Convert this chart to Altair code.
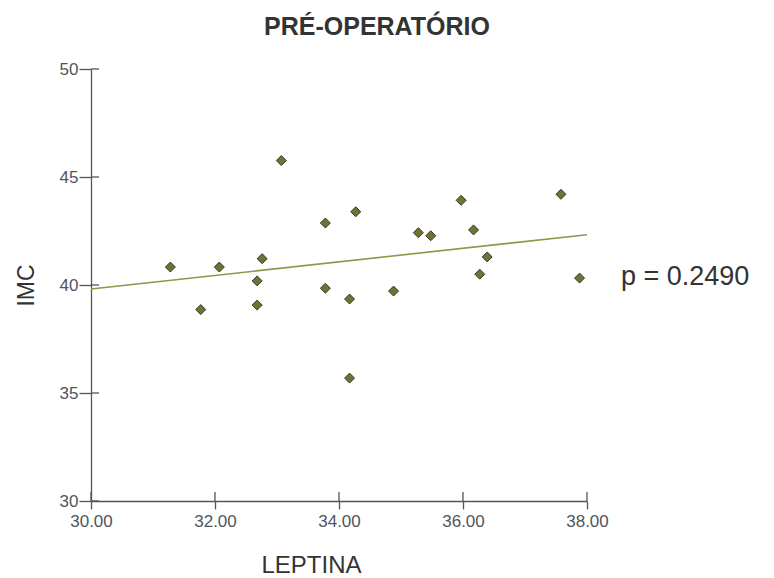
import altair as alt
import pandas as pd

# Data
leptina = [31.28, 32.07, 32.68, 32.76, 33.07, 33.78, 33.78, 34.27, 34.17, 31.77, 32.68,
           34.17, 34.88, 35.28, 35.48, 35.97, 36.17, 36.39, 36.27, 37.58, 37.88]
imc = [40.83, 40.83, 40.19, 41.22, 45.76, 42.87, 39.85, 43.39, 39.35, 38.86, 39.07,
       35.69, 39.72, 42.42, 42.28, 43.92, 42.55, 41.30, 40.50, 44.20, 40.32]
x_ticks = [30, 32, 34, 36, 38]
y_ticks = [30, 35, 40, 45, 50]
p_label = "p = 0.2490"

W, H = 496, 432
FONT = "Liberation Sans"
AXIS_COLOR = "#555555"

df = pd.DataFrame({"LEPTINA": leptina, "IMC": imc})
xt = pd.DataFrame({"v": x_ticks})
yt = pd.DataFrame({"v": y_ticks})

xscale = alt.Scale(domain=[30, 38], nice=False, zero=False)
yscale = alt.Scale(domain=[30, 50], nice=False, zero=False)

base = alt.Chart(df)

points = base.mark_point(shape="diamond", filled=True, size=100, fill="#6f7236",
                         stroke="#3a3a20", strokeWidth=1, opacity=1).encode(
    x=alt.X("LEPTINA:Q", scale=xscale,
            axis=alt.Axis(values=x_ticks, format=".2f", title="LEPTINA", grid=False,
                          tickSize=8, labelPadding=4, labelFlush=False,
                          domainColor=AXIS_COLOR, tickColor=AXIS_COLOR,
                          domainWidth=1.3, tickWidth=1.3,
                          labelFont=FONT, labelFontSize=17, labelColor="#505560",
                          titleFont=FONT, titleFontSize=24, titleFontWeight="normal",
                          titleColor="#333333", titleX=220, titleY=71,
                          titleBaseline="alphabetic", titleAlign="center")),
    y=alt.Y("IMC:Q", scale=yscale,
            axis=alt.Axis(values=y_ticks, format="d", title="IMC", grid=False,
                          tickSize=12, labelPadding=1, labelFlush=False,
                          domainColor=AXIS_COLOR, tickColor=AXIS_COLOR,
                          domainWidth=1.3, tickWidth=1.3,
                          labelFont=FONT, labelFontSize=17, labelColor="#505560",
                          titleFont=FONT, titleFontSize=23, titleFontWeight="normal",
                          titleColor="#333333", titleX=-65, titleY=216, titleAngle=-90,
                          titleBaseline="middle", titleAlign="center")),
)

fit = base.transform_regression("LEPTINA", "IMC", extent=[30, 38]).mark_line(
    color="#8c9a48", strokeWidth=1.6).encode(
    x=alt.X("LEPTINA:Q", scale=xscale),
    y=alt.Y("IMC:Q", scale=yscale),
)

x_in_ticks = alt.Chart(xt).mark_rule(color=AXIS_COLOR, strokeWidth=1.3).encode(
    x=alt.X("v:Q", scale=xscale),
    y=alt.value(H - 9),
    y2=alt.value(H),
)

y_in_ticks = alt.Chart(yt).mark_rule(color=AXIS_COLOR, strokeWidth=1.3).encode(
    y=alt.Y("v:Q", scale=yscale),
    x=alt.value(0),
    x2=alt.value(8),
)

ptext = alt.Chart(pd.DataFrame({"t": [p_label]})).mark_text(
    font=FONT, fontSize=27, color="#333333", align="left", baseline="middle").encode(
    text="t:N",
    x=alt.value(W + 34),
    y=alt.value(208),
)

chart = alt.layer(fit, x_in_ticks, y_in_ticks, points, ptext).properties(
    width=W, height=H,
    autosize="none",
    background="white",
    padding={"left": 91, "top": 69, "right": 187, "bottom": 77},
    title=alt.TitleParams("PRÉ-OPERATÓRIO", font=FONT, fontSize=25, fontWeight="bold",
                          color="#333333", anchor="middle", dx=38, dy=32, offset=32,
                          baseline="alphabetic"),
).configure_view(stroke="transparent", strokeWidth=0)

chart.save("out.html", embed_options={"renderer": "svg", "actions": False})
